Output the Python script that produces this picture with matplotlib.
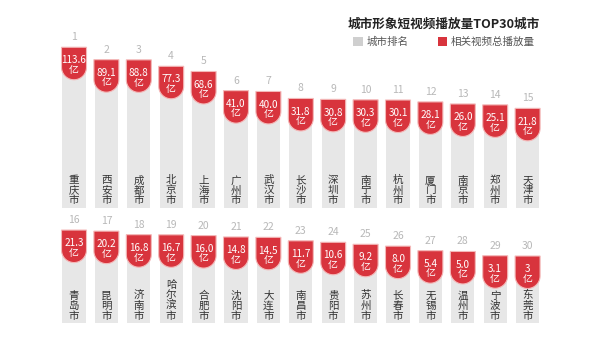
import numpy as np
import matplotlib
matplotlib.use("Agg")
import matplotlib.pyplot as plt
from matplotlib.path import Path
from matplotlib.patches import PathPatch, Patch
from matplotlib.transforms import ScaledTranslation

plt.rcParams['font.family'] = ['Noto Sans CJK SC', 'DejaVu Sans']

# ---------------- data ----------------
cities_row1 = ["重庆市", "西安市", "成都市", "北京市", "上海市", "广州市", "武汉市", "长沙市",
               "深圳市", "南宁市", "杭州市", "厦门市", "南京市", "郑州市", "天津市"]
values_row1 = [113.6, 89.1, 88.8, 77.3, 68.6, 41.0, 40.0, 31.8, 30.8, 30.3, 30.1, 28.1, 26.0, 25.1, 21.8]
labels_row1 = ["113.6", "89.1", "88.8", "77.3", "68.6", "41.0", "40.0", "31.8", "30.8", "30.3",
               "30.1", "28.1", "26.0", "25.1", "21.8"]
ranks_row1 = list(range(1, 16))

cities_row2 = ["青岛市", "昆明市", "济南市", "哈尔滨市", "合肥市", "沈阳市", "大连市", "南昌市",
               "贵阳市", "苏州市", "长春市", "无锡市", "温州市", "宁波市", "东莞市"]
values_row2 = [21.3, 20.2, 16.8, 16.7, 16.0, 14.8, 14.5, 11.7, 10.6, 9.2, 8.0, 5.4, 5.0, 3.1, 3.0]
labels_row2 = ["21.3", "20.2", "16.8", "16.7", "16.0", "14.8", "14.5", "11.7", "10.6", "9.2",
               "8.0", "5.4", "5.0", "3.1", "3"]
ranks_row2 = list(range(16, 31))

title = "城市形象短视频播放量TOP30城市"
legend_labels = ["城市排名", "相关视频总播放量"]
unit = "亿"

# ---------------- style ----------------
GRAY = "#e7e7e7"
LEGEND_GRAY = "#cfcfcf"
RED = "#d8343d"
HALO = "#f4b8b8"
RANK_COLOR = "#b8b8b8"
CITY_COLOR = "#333333"

W, H = 600, 340
fig = plt.figure(figsize=(W / 100, H / 100), dpi=100)
fig.patch.set_facecolor("white")


def fwd(v):
    v = np.asarray(v, dtype=float)
    return np.sign(v) * np.sqrt(np.abs(v))


def inv(u):
    u = np.asarray(u, dtype=float)
    return np.sign(u) * u ** 2


# tag shape in pixels: flat top at y=0, rounded bottom
hw = 12.5
rect_h = 20
theta = np.linspace(0, -np.pi, 30)
verts = [(-hw, 0), (hw, 0), (hw, -rect_h)]
verts += [(hw * np.cos(t), -rect_h + hw * np.sin(t)) for t in theta]
verts += [(-hw, 0)]
codes = [Path.MOVETO] + [Path.LINETO] * (len(verts) - 2) + [Path.CLOSEPOLY]
tag_path = Path(verts, codes)

px = 0.72  # points per pixel at dpi 100

left_px, width_px = 57.8, 486.0


def draw_row(rect, ulim, cities, values, labels, ranks):
    ax = fig.add_axes(rect)
    ax.set_yscale('function', functions=(fwd, inv))
    lo, hi = inv(ulim[0]), inv(ulim[1])
    ax.set_ylim(lo, hi)
    ax.set_xlim(-0.5, len(values) - 0.5)
    x = np.arange(len(values))
    vals = np.array(values)
    ax.bar(x, vals - lo, bottom=lo, width=0.71, color=GRAY, zorder=1)
    ax.set_ylim(lo, hi)
    for xi, v, lab, city, rk in zip(x, vals, labels, cities, ranks):
        patch = PathPatch(tag_path, facecolor=RED, edgecolor=HALO, linewidth=0.8,
                          transform=ScaledTranslation(xi, v, ax.transData), zorder=3,
                          clip_on=False)
        ax.add_artist(patch)
        ax.annotate(lab + "\n" + unit, xy=(xi, v), xytext=(0, -18 * px),
                    textcoords='offset points', ha='center', va='center',
                    color='white', fontsize=7.2, linespacing=0.95, zorder=4,
                    annotation_clip=False)
        ax.annotate(str(rk), xy=(xi, v), xytext=(0, 10 * px),
                    textcoords='offset points', ha='center', va='center',
                    color=RANK_COLOR, fontsize=7.5, annotation_clip=False)
        ax.annotate("\n".join(city), xy=(xi, 0), xycoords=ax.get_xaxis_transform(),
                    xytext=(0, 2.5 * px), textcoords='offset points',
                    ha='center', va='bottom', color=CITY_COLOR, fontsize=7.6,
                    linespacing=1.0, annotation_clip=False)
    ax.axis('off')
    return ax


draw_row([left_px / W, 132 / H, width_px / W, 168 / H], (-5.1, 11.37),
         cities_row1, values_row1, labels_row1, ranks_row1)
draw_row([left_px / W, 17 / H, width_px / W, 110 / H], (-5.71, 6.51),
         cities_row2, values_row2, labels_row2, ranks_row2)

fig.text(348 / W, 1 - 24 / H, title, fontsize=9.1, fontweight='bold',
         color='#222222', ha='left', va='center')

handles = [Patch(facecolor=LEGEND_GRAY, edgecolor='none'),
           Patch(facecolor=RED, edgecolor='none')]
fig.legend(handles, legend_labels, ncol=2, frameon=False, loc='upper left',
           bbox_to_anchor=(353 / W, 1 - 37 / H), fontsize=7.6, handlelength=0.9,
           handleheight=0.9, handletextpad=0.35, columnspacing=2.8,
           borderpad=0, borderaxespad=0, labelcolor='#555555')

fig.savefig("out.png", dpi=100, facecolor="white")
